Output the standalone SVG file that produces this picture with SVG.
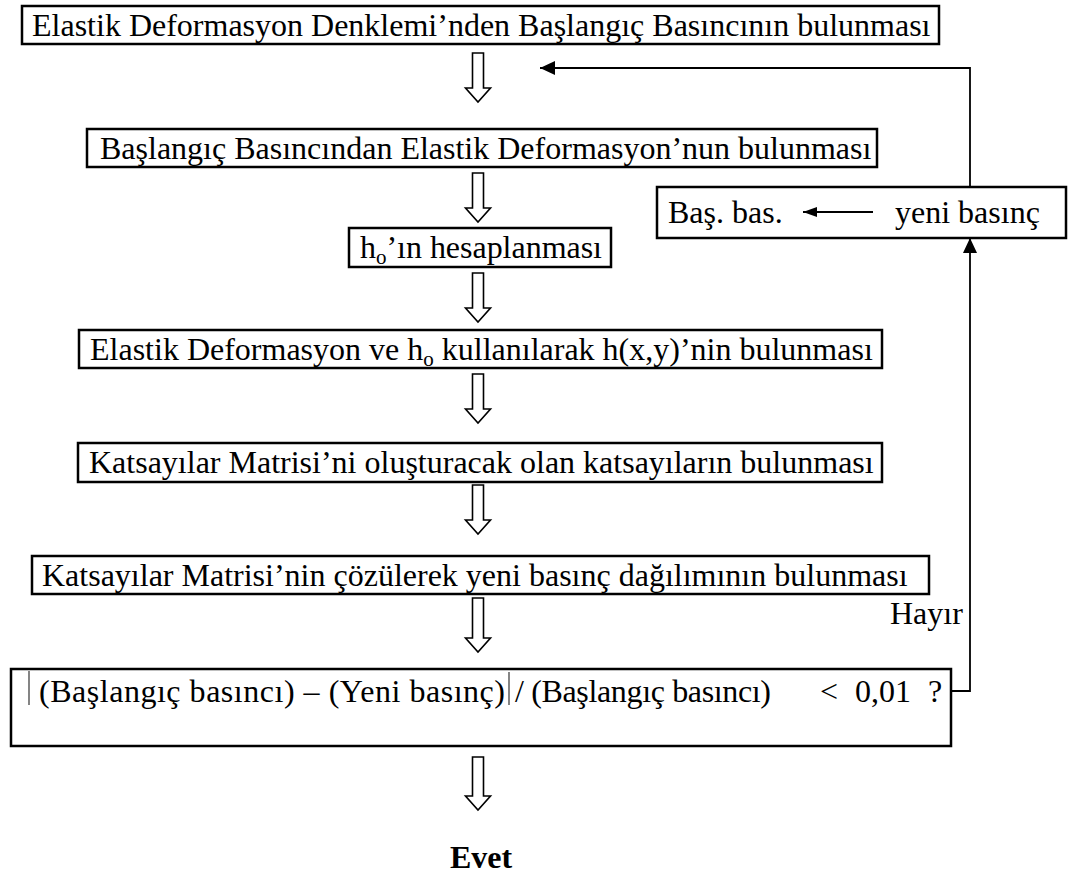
<svg xmlns="http://www.w3.org/2000/svg" width="1071" height="876" viewBox="0 0 1071 876">
<style>
.box{fill:#fff;stroke:#000;stroke-width:2.5}
.t{font-family:"Liberation Serif","Times New Roman",serif;font-size:32px;fill:#000}
.b{font-weight:bold}
.ha{fill:#fff;stroke:#000;stroke-width:1.6;stroke-linejoin:miter}
.ln{fill:none;stroke:#000;stroke-width:1.8}
.bar{stroke:#333;stroke-width:1.2}
</style>
<defs>
<marker id="ah" markerUnits="userSpaceOnUse" markerWidth="16" markerHeight="14" refX="15" refY="7" orient="auto">
<path d="M0,0 L15,7 L0,14 Z" fill="#000"/>
</marker>
<marker id="ahs" markerUnits="userSpaceOnUse" markerWidth="15" markerHeight="11" refX="14" refY="5" orient="auto">
<path d="M0,0 L14,5 L0,10 Z" fill="#000"/>
</marker>
</defs>
<rect width="1071" height="876" fill="#fff"/>

<g id="connectors">
<polygon class="ha" points="472.5,53 483.5,53 483.5,88 490.5,88 478,102 465.5,88 472.5,88"/>
<polygon class="ha" points="472.5,173 483.5,173 483.5,208 490.5,208 478,222 465.5,208 472.5,208"/>
<polygon class="ha" points="472.5,273 483.5,273 483.5,308 490.5,308 478,322 465.5,308 472.5,308"/>
<polygon class="ha" points="472.5,374 483.5,374 483.5,409 490.5,409 478,423 465.5,409 472.5,409"/>
<polygon class="ha" points="472.5,485 483.5,485 483.5,520 490.5,520 478,534 465.5,520 472.5,520"/>
<polygon class="ha" points="472.5,598 483.5,598 483.5,638 490.5,638 478,652 465.5,638 472.5,638"/>
<polygon class="ha" points="472.5,757 483.5,757 483.5,796 490.5,796 478,810 465.5,796 472.5,796"/>
<path class="ln" d="M951,691 H970 V238" marker-end="url(#ah)"/>
<path class="ln" d="M970,187 V68 H540" marker-end="url(#ah)"/>
<text class="t" x="890" y="624">Hayır</text>
<text class="t b" x="450" y="868">Evet</text>
</g>

<g id="n1">
<rect class="box" x="22" y="6" width="917" height="38"/>
<text class="t" x="32" y="36">Elastik Deformasyon Denklemi’nden Başlangıç Basıncının bulunması</text>
</g>

<g id="n2">
<rect class="box" x="87" y="129" width="790" height="38"/>
<text class="t" x="100" y="159">Başlangıç Basıncından Elastik Deformasyon’nun bulunması</text>
</g>

<g id="n_update">
<rect class="box" x="657" y="187" width="409" height="51"/>
<text class="t" x="668" y="223">Baş. bas.</text>
<path class="ln" d="M873,212 H803" marker-end="url(#ahs)"/>
<text class="t" x="895" y="223">yeni basınç</text>
</g>

<g id="n3">
<rect class="box" x="349" y="228" width="262" height="39"/>
<text class="t" x="360" y="258" textLength="242" lengthAdjust="spacing">h<tspan font-size="21" dy="6">o</tspan><tspan dy="-6">’ın hesaplanması</tspan></text>
</g>

<g id="n4">
<rect class="box" x="79" y="330" width="803" height="38"/>
<text class="t" x="90" y="360">Elastik Deformasyon ve h<tspan font-size="21" dy="6">o</tspan><tspan dy="-6"> kullanılarak h(x,y)’nin bulunması</tspan></text>
</g>

<g id="n5">
<rect class="box" x="78" y="443" width="804" height="39"/>
<text class="t" x="89" y="473">Katsayılar Matrisi’ni oluşturacak olan katsayıların bulunması</text>
</g>

<g id="n6">
<rect class="box" x="32" y="556" width="897" height="38"/>
<text class="t" x="42" y="586">Katsayılar Matrisi’nin çözülerek yeni basınç dağılımının bulunması</text>
</g>

<g id="n_decision">
<rect class="box" x="11" y="669" width="940" height="77"/>
<line class="bar" x1="29" y1="671" x2="29" y2="705"/>
<text class="t" x="39" y="702" textLength="466" lengthAdjust="spacing">(Başlangıç basıncı) – (Yeni basınç)</text>
<line class="bar" x1="509" y1="672" x2="509" y2="705"/>
<text class="t" x="515" y="702" textLength="256" lengthAdjust="spacing">/ (Başlangıç basıncı)</text>
<text class="t" x="820" y="702">&lt;</text>
<text class="t" x="855" y="702">0,01</text>
<text class="t" x="928" y="702">?</text>
</g>
</svg>
